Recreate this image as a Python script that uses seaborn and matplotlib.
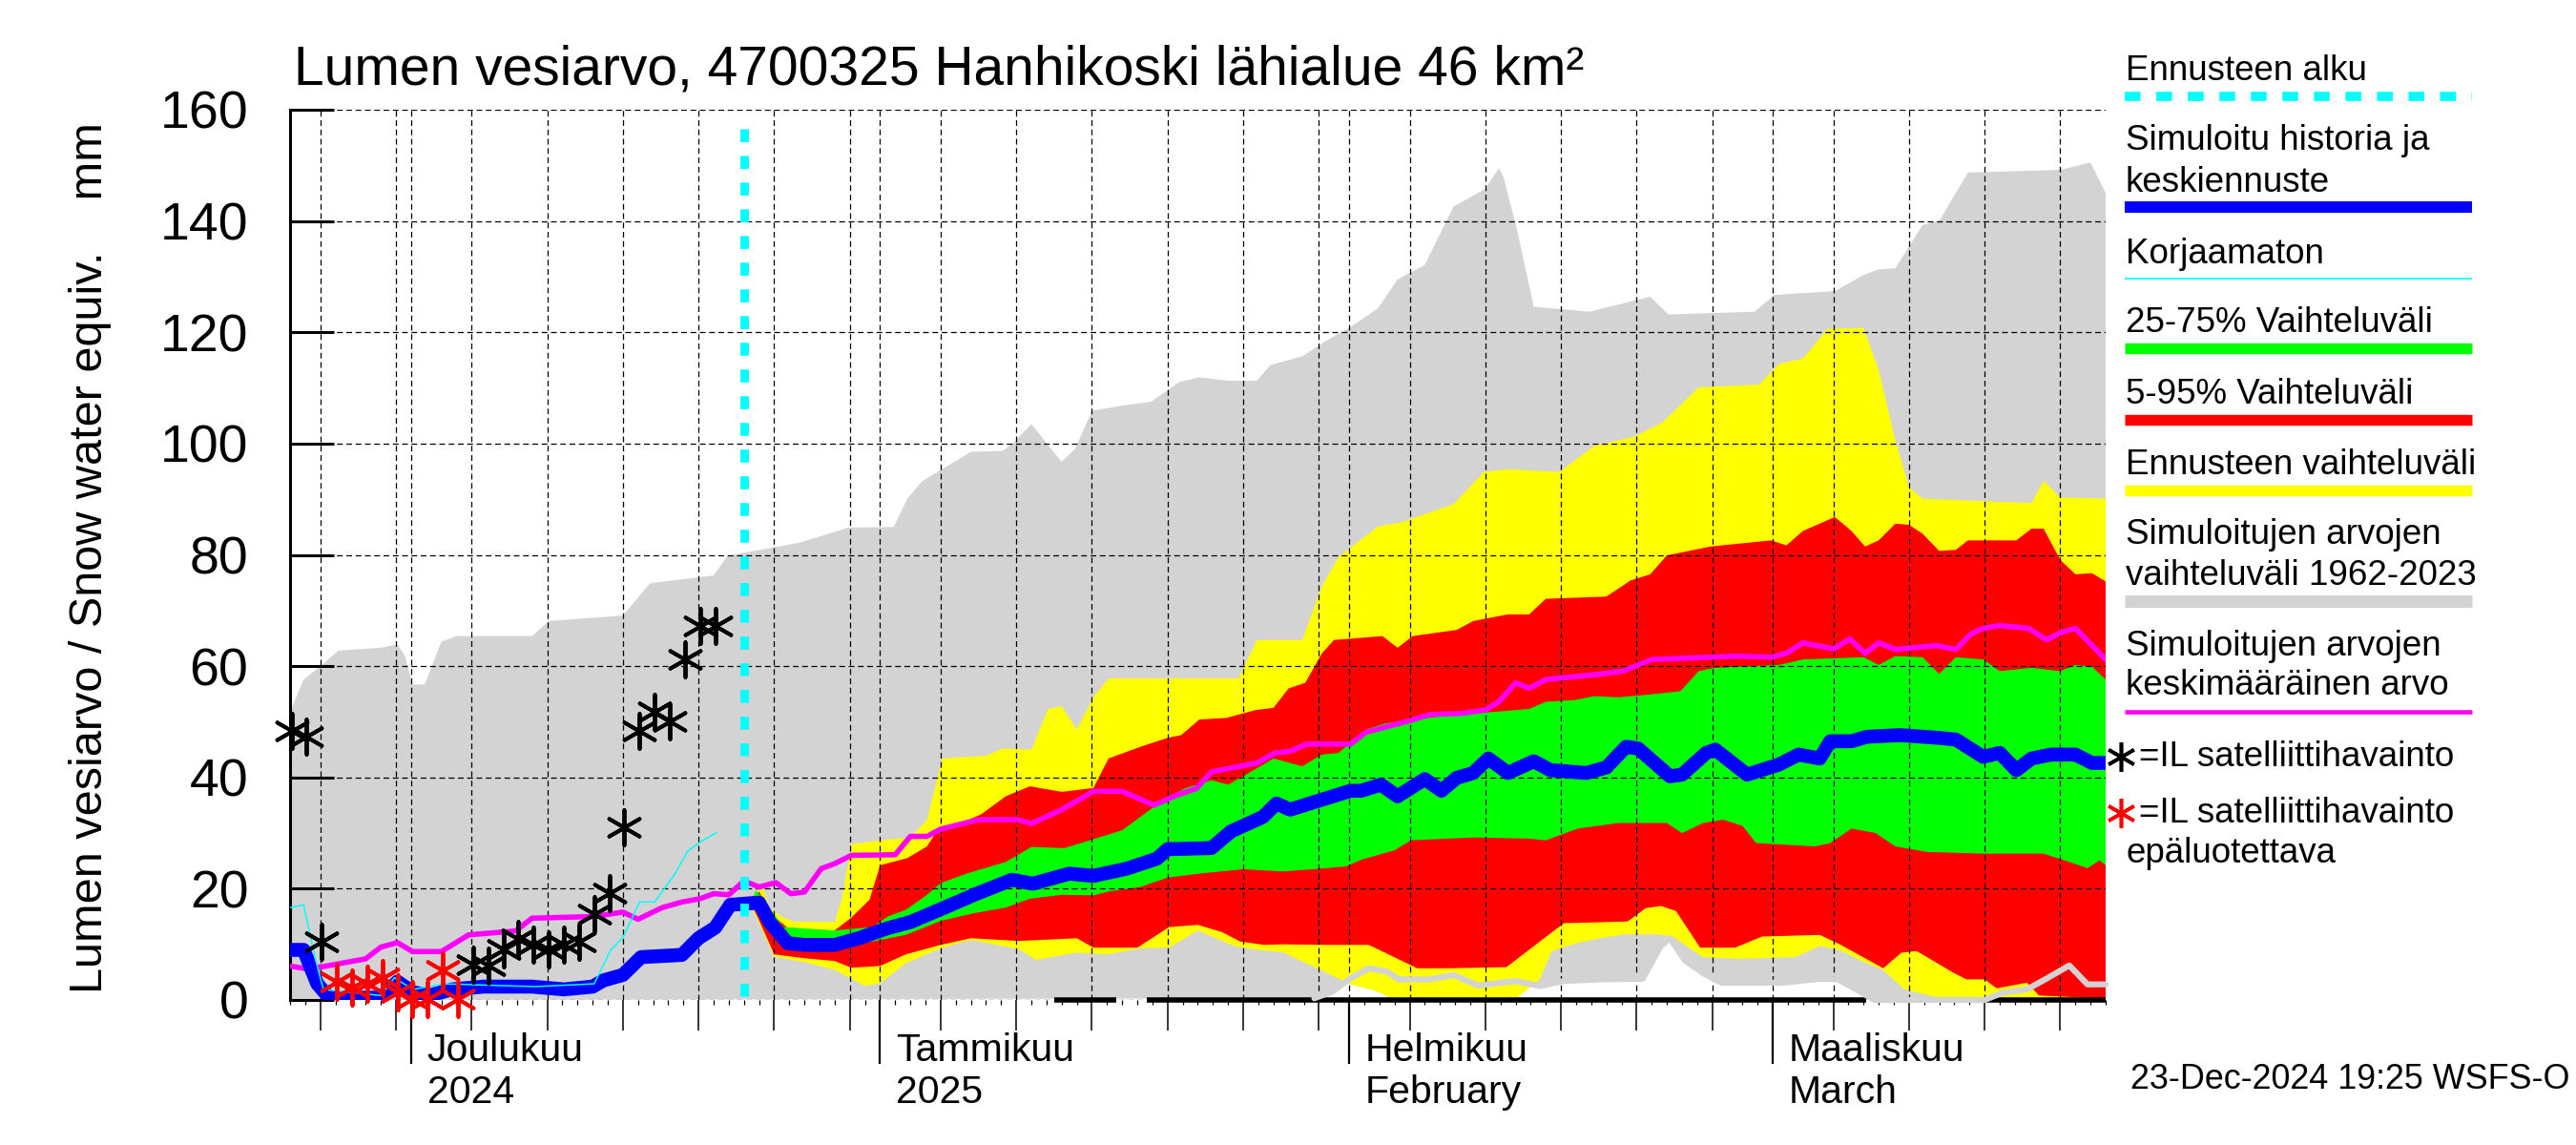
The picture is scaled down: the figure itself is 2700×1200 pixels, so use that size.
import numpy as np
import pandas as pd
import matplotlib
matplotlib.use("Agg")
import matplotlib.pyplot as plt
import matplotlib.dates as mdates
from matplotlib.lines import Line2D
import seaborn as sns

sns.set_theme(style="white")
plt.rcParams["font.family"] = ["Liberation Sans", "DejaVu Sans"]
plt.rcParams["text.color"] = "black"
plt.rcParams["xtick.color"] = "black"
plt.rcParams["ytick.color"] = "black"
plt.rcParams["axes.labelcolor"] = "black"

# ---------------- data (day offsets from START) ----------------
START = pd.Timestamp("2024-11-23")
N_DAYS = 120
FORECAST_START_DAY = 30

TITLE = "Lumen vesiarvo, 4700325 Hanhikoski lähialue 46 km²"
YLABEL = "Lumen vesiarvo / Snow water equiv.    mm"
TIMESTAMP = "23-Dec-2024 19:25 WSFS-O"
MONTH_STARTS = ["2024-12-01", "2025-01-01", "2025-02-01", "2025-03-01"]
MONTH_LABELS = ["Joulukuu\n2024", "Tammikuu\n2025", "Helmikuu\nFebruary", "Maaliskuu\nMarch"]
Y_TICKS = [0, 20, 40, 60, 80, 100, 120, 140, 160]

# simulated range 1962-2023 (gray band)
gmax_day = [0, 0.9, 2.1, 3.2, 6.0, 7.1, 7.6, 8.1, 8.9, 10.0, 11.0, 16.0, 17.1, 22.0, 23.8, 28.0,
            28.9, 33.7, 36.9, 39.9, 40.8, 41.8, 43.1, 45.0, 47.1, 47.8, 49.0, 51.0, 51.9, 53.0,
            55.2, 56.9, 58.8, 60.1, 62.0, 63.9, 64.8, 66.9, 68.8, 69.9, 71.9, 73.2, 75.0, 76.9,
            79.0, 79.9, 80.2, 81.1, 82.2, 85.9, 89.9, 91.1, 96.8, 98.1, 102.1, 104.0, 105.0,
            106.1, 107.9, 109.0, 110.9, 117.0, 119.0, 120.0]
gmax_val = [51.8, 57.6, 60.2, 62.8, 63.3, 63.9, 61.8, 56.7, 56.7, 64.4, 65.4, 65.4, 68.1, 69.1, 74.9, 76.3,
            79.8, 82.2, 84.9, 85.0, 90.1, 93.3, 95.4, 98.5, 98.7, 100.1, 103.5, 96.7, 99.1, 105.9,
            106.9, 107.5, 111.1, 111.9, 111.3, 111.3, 114.1, 115.7, 119.0, 120.6, 124.3, 129.5, 132.1, 142.6,
            145.8, 149.5, 147.9, 138.4, 124.6, 123.7, 126.4, 123.2, 123.7, 126.7, 127.4, 130.3, 131.3,
            131.5, 139.3, 140.0, 148.7, 149.2, 150.5, 145.0]
gmin_day = [0, 67.7, 68.9, 70.1, 71.3, 72.5, 73.3, 75.3, 76.9, 78.5, 81.0, 82.6, 84.2, 86.6, 89.4,
            90.6, 91.2, 92.2, 93.4, 94.6, 98.7, 101.1, 102.3, 103.5, 104.7, 112.0, 113.2, 114.8,
            116.0, 117.6, 118.8, 120.0]
gmin_val = [0, 0.3, 1.5, 3.9, 5.7, 5.1, 3.7, 3.7, 4.5, 2.6, 3.4, 2.5, 3.4, 3.7, 3.8,
            9.7, 11.1, 7.1, 4.8, 3.1, 3.1, 3.8, 3.7, 1.9, 0.0, 0.0, 1.3, 1.9,
            3.7, 6.2, 2.8, 2.8]

# forecast range (yellow)
fmax_day = [30.4, 31.2, 31.7, 32.6, 33.3, 36.0, 36.5, 37.1, 39.4, 41.0, 42.1, 43.1, 46.0, 47.1, 49.0,
            50.1, 51.0, 52.0, 53.1, 54.1, 62.7, 63.9, 66.9, 68.2, 69.3, 71.9, 73.5, 76.9, 78.9,
            80.5, 83.9, 86.2, 88.8, 90.7, 93.1, 97.1, 98.4, 100.0, 101.6, 104.0, 105.0, 106.1,
            107.0, 107.9, 115.1, 115.9, 117.0, 120.0]
fmax_val = [17.4, 20.8, 16.5, 14.8, 14.1, 14.0, 18.5, 28.0, 28.8, 29.2, 32.4, 43.4, 43.9, 45.2, 45.0,
            52.3, 52.8, 48.6, 54.4, 57.8, 57.8, 64.7, 64.7, 74.4, 79.6, 85.1, 85.9, 89.1, 94.9,
            95.4, 94.9, 99.6, 101.2, 103.8, 110.1, 110.6, 114.3, 115.3, 120.6, 120.8, 113.2, 100.6,
            92.2, 90.1, 89.3, 93.3, 90.3, 90.1]
fmin_day = [30.4, 30.8, 32.0, 34.0, 36.0, 38.0, 39.0, 40.7, 43.0, 45.0, 48.2, 49.3, 52.0, 54.0, 56.3,
            58.1, 60.0, 62.4, 64.0, 65.6, 68.1, 70.1, 71.7, 72.9, 81.0, 82.6, 83.4, 85.0, 86.6,
            88.2, 90.4, 91.4, 92.6, 93.4, 95.9, 99.5, 101.1, 102.3, 104.3, 105.3, 106.7, 108.8, 120.0]
fmin_val = [17.4, 15.0, 7.8, 6.8, 5.4, 2.5, 3.0, 6.6, 9.3, 10.8, 9.1, 7.2, 8.5, 8.2, 9.3,
            9.4, 12.5, 9.7, 9.0, 8.6, 5.4, 2.8, 1.7, 0.2, 0.2, 3.7, 8.8, 10.2, 11.1,
            11.8, 11.8, 11.4, 9.1, 7.7, 7.4, 7.7, 9.7, 9.1, 6.5, 5.4, 1.9, 0.5, 0.2]

# 5-95 % range (red)
p95_day = [30.4, 31.0, 31.7, 33.0, 36.0, 37.1, 38.3, 39.0, 40.8, 42.1, 42.6, 45.7, 47.3, 48.9, 51.0,
           53.1, 54.1, 56.2, 58.0, 58.9, 60.1, 61.9, 63.8, 65.0, 66.0, 67.1, 68.2, 69.0, 72.2, 73.2,
           74.2, 77.1, 78.2, 80.5, 81.9, 83.0, 87.0, 88.6, 89.9, 91.0, 93.9, 97.9, 98.9, 100.0,
           102.1, 103.2, 104.1, 105.0, 106.1, 107.0, 107.9, 109.0, 110.1, 110.9, 114.1, 115.1,
           115.9, 117.0, 118.0, 119.1, 120.0]
p95_val = [17.4, 19.5, 15.7, 12.7, 12.5, 14.8, 18.0, 24.2, 25.5, 27.6, 29.7, 33.4, 36.6, 38.4, 37.4,
           38.1, 43.4, 45.5, 47.1, 47.6, 50.4, 50.7, 52.1, 52.5, 56.0, 57.0, 62.3, 64.7, 65.4, 63.3,
           65.4, 66.5, 68.1, 69.3, 69.3, 72.1, 72.5, 75.4, 76.5, 79.9, 81.5, 82.6, 81.7, 84.3,
           86.8, 84.3, 81.5, 82.6, 85.6, 85.4, 83.8, 80.7, 80.9, 82.6, 82.6, 84.7,
           84.7, 79.1, 76.5, 76.7, 75.2]
p05_day = [30.4, 30.8, 32.0, 34.0, 36.0, 37.1, 39.0, 40.7, 43.0, 45.0, 48.2, 52.0, 53.1, 56.0, 58.1,
           60.0, 61.6, 62.8, 64.4, 65.6, 68.5, 71.3, 74.5, 76.5, 80.4, 82.6, 84.2, 88.4, 89.6,
           90.6, 91.6, 93.2, 95.5, 97.3, 101.1, 102.5, 105.3, 106.5, 107.5, 110.0, 110.8, 112.0,
           112.8, 114.8, 115.6, 118.0, 120.0]
p05_val = [17.4, 15.5, 8.2, 7.5, 7.0, 5.8, 6.1, 8.2, 9.9, 11.1, 10.6, 11.1, 9.4, 9.4, 13.1,
           13.5, 12.2, 10.5, 9.9, 10.0, 9.9, 9.9, 5.7, 5.7, 5.9, 10.5, 13.8, 14.1, 16.5,
           16.9, 16.0, 9.4, 9.4, 11.4, 11.7, 9.9, 5.7, 8.5, 8.8, 4.8, 3.7, 3.7,
           2.1, 3.1, 0.8, 0.5, 0.3]

# 25-75 % range (green)
p75_day = [30.4, 30.8, 31.4, 32.6, 36.0, 38.5, 39.5, 40.7, 42.1, 43.0, 44.7, 47.3, 49.0, 51.2, 53.1,
           55.0, 57.0, 59.1, 60.9, 62.0, 63.0, 65.0, 66.9, 68.2, 69.3, 71.1, 72.4, 74.2, 77.1,
           79.7, 81.9, 83.0, 84.9, 86.2, 87.8, 89.9, 91.9, 93.1, 94.2, 98.4, 100.0, 104.0, 105.0,
           106.1, 107.9, 109.0, 110.1, 111.9, 113.0, 115.1, 117.0, 118.0, 119.1, 120.0]
p75_val = [17.4, 19.7, 17.7, 13.1, 12.5, 13.1, 15.0, 16.2, 18.9, 21.0, 22.7, 24.8, 27.5, 27.3, 28.9,
           30.5, 34.5, 38.0, 39.5, 38.7, 40.2, 43.4, 42.0, 44.1, 44.4, 48.6, 49.7, 50.4, 51.3,
           51.8, 52.3, 53.6, 53.9, 54.6, 54.4, 54.9, 55.5, 59.1, 59.7, 60.2, 61.2, 61.6, 60.2,
           61.8, 61.6, 58.6, 61.6, 61.2, 59.1, 59.7, 59.1, 60.2, 59.9, 57.6]
p25_day = [30.4, 31.0, 31.7, 32.6, 36.0, 38.5, 40.7, 43.0, 45.2, 47.3, 48.9, 51.0, 53.1, 54.1, 56.2,
           58.0, 60.4, 63.0, 65.6, 68.1, 69.8, 70.8, 73.0, 74.1, 78.2, 81.9, 83.0, 85.1, 87.8,
           91.0, 92.0, 93.4, 94.7, 96.0, 96.9, 100.8, 101.8, 103.2, 104.8, 106.1, 108.2, 111.9,
           115.9, 117.6, 118.8, 119.6, 120.0]
p25_val = [17.4, 16.0, 14.0, 10.5, 9.9, 10.5, 11.7, 14.2, 15.6, 16.6, 18.2, 18.9, 18.8, 19.5, 20.3,
           22.0, 22.8, 23.5, 23.1, 23.6, 24.0, 25.2, 26.9, 28.7, 29.2, 29.0, 28.7, 30.8, 31.8,
           31.8, 30.0, 31.8, 32.4, 31.3, 28.2, 27.6, 28.2, 30.8, 30.0, 27.6, 26.6, 26.3,
           26.3, 24.8, 23.7, 25.1, 24.2]

# simulated history + median forecast (blue)
sim_day = [0, 0.9, 1.8, 2.6, 6.0, 7.1, 8.1, 9.2, 10.7, 12.8, 16.0, 18.1, 20.0, 20.7, 22.0, 23.2,
           25.9, 27.0, 28.1, 29.1, 31.0, 31.7, 32.9, 34.0, 36.0, 37.6, 39.5, 41.0, 43.0, 45.3,
           47.7, 49.1, 51.5, 53.1, 55.3, 57.3, 58.0, 60.9, 62.2, 64.3, 65.2, 66.1, 68.2, 70.1,
           70.8, 72.1, 73.2, 75.0, 76.1, 77.1, 78.2, 79.2, 80.5, 82.2, 83.3, 85.7, 87.0, 88.3,
           89.1, 91.2, 92.0, 93.6, 94.2, 96.3, 98.4, 99.7, 101.1, 101.8, 103.2, 104.2, 106.4,
           109.0, 110.1, 111.9, 113.0, 114.1, 115.1, 116.4, 118.0, 119.1, 120.0]
sim_val = [9.0, 9.0, 2.9, 0.4, 0.4, 3.3, 1.4, 0.8, 1.9, 2.4, 2.4, 1.9, 2.4, 3.5, 4.5, 7.7,
           8.1, 11.1, 13.0, 17.1, 17.5, 14.0, 10.2, 9.9, 9.9, 11.1, 12.9, 14.0, 16.3, 19.0,
           21.6, 20.9, 22.7, 22.3, 23.6, 25.4, 27.1, 27.3, 30.3, 32.9, 35.3, 34.2, 36.0, 37.6,
           37.6, 38.7, 36.6, 39.7, 37.6, 39.9, 40.8, 43.4, 40.8, 42.9, 41.3, 40.8, 41.8, 45.5,
           45.2, 40.2, 40.5, 44.4, 45.0, 40.5, 42.3, 44.1, 43.4, 46.5, 46.5, 47.3, 47.6,
           47.1, 46.8, 43.7, 44.4, 41.3, 43.4, 44.1, 44.1, 42.6, 42.6]

# uncorrected (cyan thin)
raw_day = [0, 0.9, 1.7, 2.2, 6.0, 6.9, 8.1, 10.2, 16.2, 20.1, 21.2, 22.0, 23.1, 24.1, 25.4, 26.3, 27.3, 28.2]
raw_val = [16.6, 17.1, 7.1, 1.9, 0.8, 4.0, 1.9, 2.9, 2.4, 2.9, 9.0, 11.2, 17.6, 17.6, 22.5, 26.8, 28.7, 30.1]

# mean of simulated values (magenta)
mean_day = [0, 1.1, 2.4, 5.0, 6.0, 7.1, 8.1, 10.0, 11.8, 14.9, 16.0, 20.1, 22.0, 23.0, 24.6, 25.9,
            27.1, 28.0, 29.0, 30.0, 31.0, 32.1, 33.1, 34.0, 35.1, 36.0, 37.1, 40.0, 41.0, 42.1,
            43.0, 45.5, 48.1, 49.0, 51.0, 53.1, 55.0, 57.1, 58.6, 59.9, 60.9, 63.9, 65.1, 66.1,
            67.2, 70.1, 71.1, 74.0, 75.3, 77.4, 79.0, 79.9, 81.0, 81.9, 83.0, 84.9, 86.7, 88.1,
            90.0, 93.9, 95.7, 97.9, 98.9, 100.0, 102.0, 103.1, 104.1, 105.0, 106.1, 108.8,
            110.1, 111.1, 111.9, 113.0, 114.9, 116.1, 117.0, 118.0, 120.0]
mean_val = [6.1, 5.6, 6.1, 7.4, 9.5, 10.3, 8.7, 8.7, 11.7, 12.4, 14.7, 15.0, 15.8, 14.5, 16.6, 17.6,
            18.2, 19.1, 18.9, 21.4, 20.3, 21.1, 19.1, 19.4, 23.6, 24.5, 26.0, 26.1, 29.4, 29.4,
            30.7, 32.4, 32.4, 31.7, 34.2, 37.5, 37.5, 35.0, 36.8, 38.0, 41.0, 42.6, 44.4, 44.7,
            46.0, 46.0, 48.1, 50.2, 51.3, 51.5, 52.1, 53.6, 57.0, 56.0, 57.6, 58.1, 58.6, 59.1,
            61.2, 61.6, 61.8, 61.6, 62.3, 64.2, 63.1, 64.9, 62.3, 64.2, 63.0, 63.7,
            63.0, 65.8, 66.8, 67.3, 66.8, 64.7, 66.0, 66.8, 61.2]

# satellite observations
obs_day = [0.1, 1.1, 2.1, 12.1, 13.1, 14.1, 15.1, 16.1, 17.1, 18.1, 19.1, 20.1, 21.1, 22.1, 23.1,
           24.1, 25.1, 26.1, 27.1, 28.1]
obs_val = [48.3, 47.4, 10.5, 6.3, 6.1, 9.1, 11.0, 10.0, 9.1, 9.9, 10.4, 15.4, 19.2, 31.1, 48.3,
           51.8, 50.0, 61.3, 67.2, 67.3]
bad_day = [3.1, 4.1, 5.1, 6.1, 7.1, 8.1, 9.1, 10.1, 11.1]
bad_val = [3.3, 2.2, 3.0, 3.9, 1.3, 0.1, 0.2, 5.4, 0.1]

# zero-level line segments (day ranges)
ZERO_SEGMENTS = [(50.5, 54.6), (56.6, 104.2), (111.8, 120.0)]

# ---------------- helpers ----------------
def to_num(days):
    return mdates.date2num(START + pd.to_timedelta(np.asarray(days, float), unit="D"))

W, H = 2700, 1200
def fx(px):
    return px / W
def fy(py):
    return 1 - py / H

C_GRAY = "#d3d3d3"
C_YEL = "#ffff00"
C_RED = "#ff0000"
C_GRN = "#00ff00"
C_BLUE = "#0000ff"
C_MAG = "#ff00ff"
C_CYAN = "#00ffff"

fig = plt.figure(figsize=(27, 12), dpi=100)
ax = fig.add_axes([fx(304), fy(1048), fx(2207 - 304), (1048 - 115) / H])

def band(up_d, up_v, lo_d, lo_v, color, z):
    xs = np.concatenate([to_num(up_d), to_num(lo_d)[::-1]])
    ys = np.concatenate([np.asarray(up_v, float), np.asarray(lo_v, float)[::-1]])
    ax.fill(xs, ys, color=color, lw=0, zorder=z)

band(gmax_day, gmax_val, gmin_day, gmin_val, C_GRAY, 1.0)
band(fmax_day, fmax_val, fmin_day, fmin_val, C_YEL, 1.1)
band(p95_day, p95_val, p05_day, p05_val, C_RED, 1.2)
band(p75_day, p75_val, p25_day, p25_val, C_GRN, 1.3)

for a, b in ZERO_SEGMENTS:
    ax.plot(to_num([a, b]), [0, 0], color="black", lw=4, zorder=2.0, clip_on=False,
            solid_capstyle="butt")

# lower edge of the gray band over the forecast fills
gm = [(d, v) for d, v in zip(gmin_day, gmin_val) if d >= 67.7]
sns.lineplot(x=to_num([d for d, _ in gm]), y=[v for _, v in gm], ax=ax, color=C_GRAY,
             lw=4.5, zorder=2.2, estimator=None, sort=False, clip_on=False)

sns.lineplot(x=to_num(mean_day), y=mean_val, ax=ax, color=C_MAG, lw=4, zorder=3,
             estimator=None, sort=False)
sns.lineplot(x=to_num(sim_day), y=sim_val, ax=ax, color=C_BLUE, lw=10.5, zorder=4,
             estimator=None, sort=False)
sns.lineplot(x=to_num(raw_day), y=raw_val, ax=ax, color=C_CYAN, lw=1.1, zorder=5,
             estimator=None, sort=False)

ax.axvline(to_num([FORECAST_START_DAY])[0], ymin=0.004, ymax=0.987, color=C_CYAN, lw=6.5,
           linestyle=(0, (1.5, 1.6)), zorder=6)

AST = (6, 2, 0)
sns.scatterplot(x=to_num(obs_day), y=obs_val, ax=ax, marker=AST, s=700, color="black",
                edgecolor="black", linewidth=2.8, zorder=8, clip_on=False)
sns.scatterplot(x=to_num(bad_day), y=bad_val, ax=ax, marker=AST, s=700, color=C_RED,
                edgecolor=C_RED, linewidth=2.8, zorder=8, clip_on=False)

# ---------------- axes styling ----------------
ax.set_xlim(to_num([0])[0], to_num([N_DAYS])[0])
ax.set_ylim(0, 160)
ax.set_yticks(Y_TICKS)
ax.set_yticklabels([str(v) for v in Y_TICKS])
ax.set_xlabel("")
ax.set_ylabel("")

ax.xaxis.set_major_locator(mdates.DayLocator(bymonthday=[1, 5, 10, 15, 20, 25, 30]))
ax.xaxis.set_minor_locator(mdates.DayLocator())
ax.xaxis.set_major_formatter(plt.NullFormatter())

ax.set_axisbelow("line")
ax.grid(True, which="major", axis="both", color="black", linestyle=(0, (4.8, 3.0)), linewidth=0.9)

ax.tick_params(axis="x", which="major", direction="out", length=23, width=1.1, bottom=True,
               labelbottom=False)
ax.tick_params(axis="x", which="minor", direction="out", length=3.6, width=0.9, bottom=True)
ax.tick_params(axis="y", which="major", direction="in", length=33, width=2.2, left=True,
               pad=31.5, labelsize=40)
for side in ["top", "right", "bottom"]:
    ax.spines[side].set_visible(False)
ax.spines["left"].set_color("black")
ax.spines["left"].set_linewidth(2.2)

sec = ax.secondary_xaxis("bottom")
sec.xaxis.set_major_locator(mdates.MonthLocator())
sec.xaxis.set_minor_locator(plt.NullLocator())
sec.xaxis.set_major_formatter(plt.NullFormatter())
sec.tick_params(axis="x", which="major", direction="out", length=48, width=1.6, bottom=True,
                color="black")
for s in sec.spines.values():
    s.set_visible(False)

for m, lab in zip(MONTH_STARTS, MONTH_LABELS):
    ax.annotate(lab, xy=(mdates.date2num(pd.Timestamp(m)), 0),
                xycoords=ax.get_xaxis_transform(), xytext=(12, -24.5),
                textcoords="offset points", ha="left", va="top", fontsize=29.5,
                annotation_clip=False)

fig.text(fx(308), fy(88), TITLE, fontsize=41, ha="left", va="baseline")
fig.text(fx(95), 0.513, YLABEL, fontsize=35, rotation=90, ha="center", va="center")
fig.text(fx(2233), fy(1141), TIMESTAMP, fontsize=25.8, ha="left", va="baseline")

# ---------------- legend (drawn at the right) ----------------
LX0, LX1, TX = 2227, 2591, 2228
LFS = 26.5

def leg_text(y, s, x=TX):
    fig.text(fx(x), fy(y), s, fontsize=LFS, ha="left", va="baseline")

def leg_line(y, color, lw, ls="-"):
    fig.add_artist(Line2D([fx(LX0), fx(LX1)], [fy(y), fy(y)], transform=fig.transFigure,
                          color=color, lw=lw, linestyle=ls, solid_capstyle="butt"))

leg_text(84, "Ennusteen alku")
leg_line(101, C_CYAN, 7, (0, (1.7, 1.7)))
leg_text(157, "Simuloitu historia ja")
leg_text(201, "keskiennuste")
leg_line(217, C_BLUE, 8.6)
leg_text(276, "Korjaamaton")
leg_line(292, C_CYAN, 1.2)
leg_text(348, "25-75% Vaihteluväli")
leg_line(365, C_GRN, 8.2)
leg_text(423, "5-95% Vaihteluväli")
leg_line(440, C_RED, 8.2)
leg_text(497, "Ennusteen vaihteluväli")
leg_line(514, C_YEL, 8.2)
leg_text(570, "Simuloitujen arvojen")
leg_text(613, "vaihteluväli 1962-2023")
leg_line(630, C_GRAY, 9.5)
leg_text(687, "Simuloitujen arvojen")
leg_text(728, "keskimääräinen arvo")
leg_line(746, C_MAG, 3.3)
fig.add_artist(Line2D([fx(2223)], [fy(793)], transform=fig.transFigure, marker=AST,
                      markersize=22, mew=2.6, color="black", linestyle="none"))
leg_text(803, "=IL satelliittihavainto", x=2242)
fig.add_artist(Line2D([fx(2223)], [fy(852)], transform=fig.transFigure, marker=AST,
                      markersize=22, mew=2.6, color=C_RED, linestyle="none"))
leg_text(862, "=IL satelliittihavainto", x=2242)
leg_text(904, "epäluotettava")

fig.savefig("out.png", dpi=100)
